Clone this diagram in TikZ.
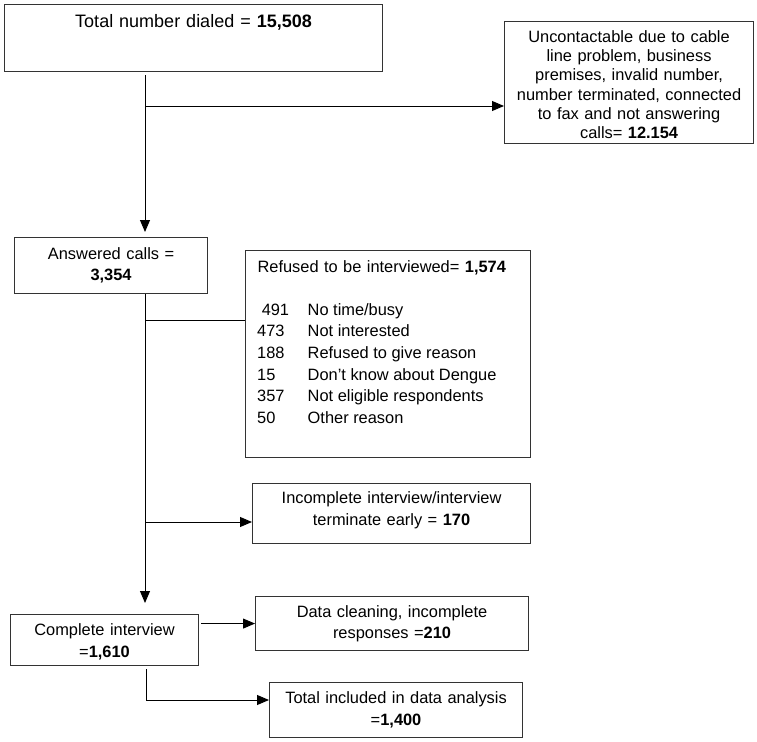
\documentclass[tikz,border=0pt]{standalone}
\usepackage{fontspec}
\setmainfont{Liberation Sans}
\usetikzlibrary{arrows.meta}

\begin{document}
\begin{tikzpicture}[x=1pt,y=-1pt]
        % Styles for the boxes, rows and arrows
        \tikzset{
            flowbox/.style={
                draw=black!80,
                line width=1.1pt,
                rectangle,
                anchor=north west,
                inner sep=0pt,
                align=center,
                font=\fontsize{16.4}{21.7}\selectfont
            },
            reason/.style={
                anchor=base west,
                inner sep=0pt,
                font=\fontsize{16.4}{21.7}\selectfont
            },
            arrow/.style={
                line width=0.9pt,
                -{Triangle[length=12pt,width=10pt]}
            },
            link/.style={
                line width=0.9pt
            }
        }
        \useasboundingbox (0,0) rectangle (757,741);
        % The boxes, placed by their top left corner
        \node[flowbox, text width=378pt, text height=22.5pt, text depth=44.5pt,
              font=\fontsize{18}{22}\selectfont] (total) at (4,4)
              {Total number dialed = \textbf{15,508}};
        \node[flowbox, text width=249pt, text height=20.7pt, text depth=101.3pt,
              font=\fontsize{16.4}{19.3}\selectfont] (uncontact) at (504,21)
              {Uncontactable due to cable\\ line problem, business\\ premises, invalid number,\\
               number terminated, connected\\ to fax and not answering\\ calls= \textbf{12.154}};
        \node[flowbox, text width=193pt, text height=22.3pt, text depth=33.7pt,
              font=\fontsize{16.4}{20.7}\selectfont] (answered) at (14,237)
              {Answered calls =\\ \textbf{3,354}};
        \node[flowbox, align=left, text width=261pt, inner xsep=12pt,
              text height=21.7pt, text depth=185.3pt] (refused) at (245,250)
              {Refused to be interviewed= \textbf{1,574}};
        \node[flowbox, text width=278pt, text height=20.3pt, text depth=39.7pt] (incomplete) at (252,483)
              {Incomplete interview/interview\\ terminate early = \textbf{170}};
        \node[flowbox, text width=188pt, text height=21pt, text depth=30pt] (complete) at (10,614)
              {Complete interview\\ =\textbf{1,610}};
        \node[flowbox, text width=273pt, text height=20.7pt, text depth=33.3pt] (cleaning) at (255,596)
              {Data cleaning, incomplete\\ responses =\textbf{210}};
        \node[flowbox, text width=253pt, text height=21.3pt, text depth=33.7pt] (analysis) at (269,682)
              {Total included in data analysis\\ =\textbf{1,400}};
        % Reasons for refusal, one row each
        \foreach \num/\why [count=\i] in {{\ 491}/{No time/busy}, 473/{Not interested},
                188/{Refused to give reason}, 15/{Don’t know about Dengue},
                357/{Not eligible respondents}, 50/{Other reason}} {
            \node[reason] (num\i) at (257,{271.7+21.7*(\i+1)}) {\num};
            \node[reason] (why\i) at (307.5,{271.7+21.7*(\i+1)}) {\why};
        }
        % Branch points on the main line
        \coordinate (fork1) at (145,106);
        \coordinate (fork2) at (145,320);
        \coordinate (fork3) at (145,522);
        \coordinate (fork4) at (146,700);
        % Connectors
        \draw[arrow] ([yshift=-3pt]total.south -| fork1) -- ([yshift=5pt]answered.north -| fork1);
        \draw[arrow] (fork1) -- (fork1 -| uncontact.west);
        \draw[arrow] (answered.south -| fork2) -- ([yshift=11pt]complete.north -| fork2);
        \draw[link] (fork2) -- (fork2 -| refused.west);
        \draw[arrow] (fork3) -- (fork3 -| incomplete.west);
        \draw[arrow] ([xshift=2pt]complete.east |- cleaning.west) -- (cleaning.west);
        \draw[arrow] ([yshift=-3pt]complete.south -| fork4) -- (fork4) -- (fork4 -| analysis.west);
\end{tikzpicture}
\end{document}
